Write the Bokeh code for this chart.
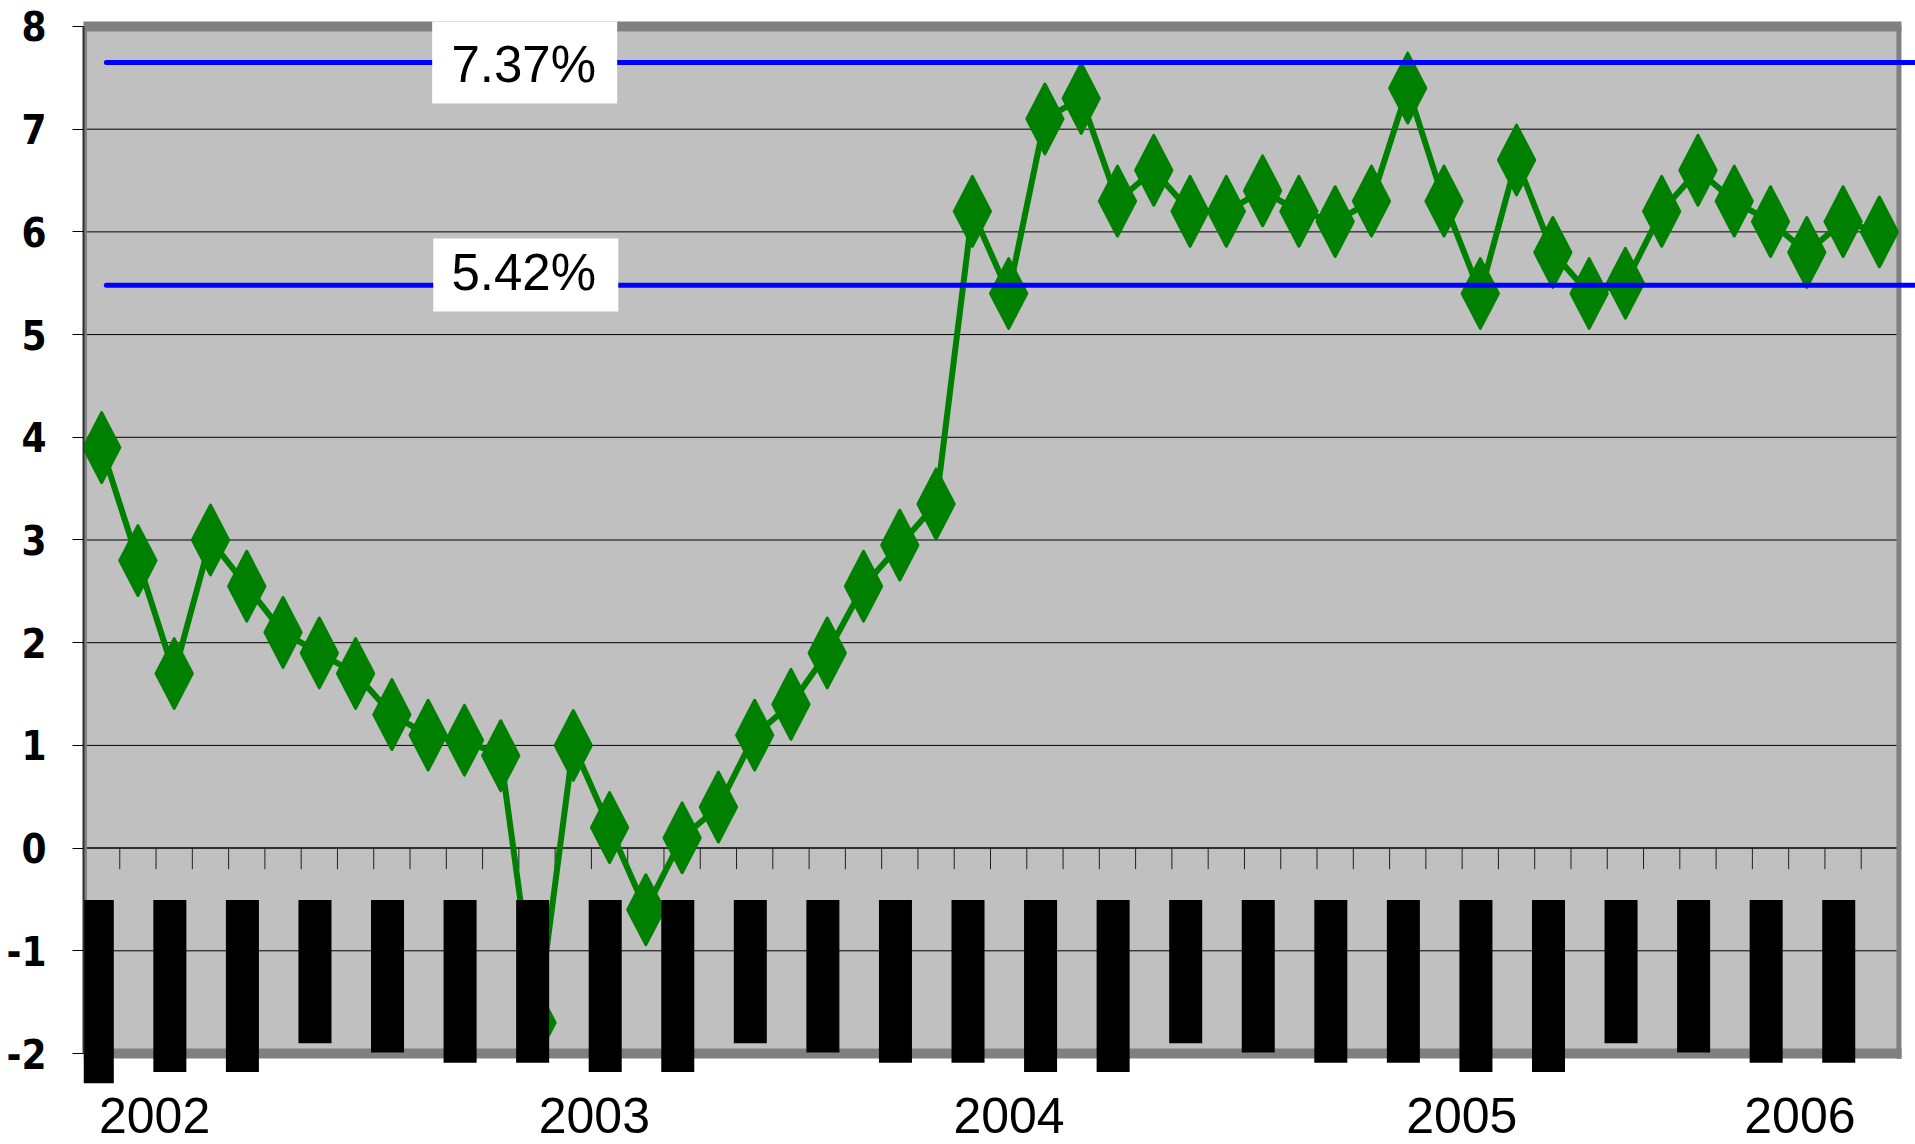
from bokeh.plotting import figure
from bokeh.models import Range1d, FixedTicker
from bokeh.embed import file_html
from bokeh.resources import INLINE
from bokeh.core.properties import value

# ---- data ----
values = [3.9, 2.8, 1.7, 3.0, 2.55, 2.1, 1.9, 1.7, 1.3, 1.1, 1.05, 0.9,
          -1.7, 1.0, 0.2, -0.6, 0.1, 0.4, 1.1, 1.4, 1.9, 2.55, 2.95, 3.35,
          6.2, 5.4, 7.1, 7.3, 6.3, 6.6, 6.2, 6.2, 6.4, 6.2, 6.1, 6.3,
          7.4, 6.3, 5.4, 6.7, 5.8, 5.4, 5.5, 6.2, 6.6, 6.3, 6.1, 5.8,
          6.1, 6.0]
ref_levels = [7.65, 5.48]
ref_labels = ["7.37%", "5.42%"]
ref_label_y = [7.63, 5.6]
years = ["2002", "2003", "2004", "2005", "2006"]
year_pos = [1.96, 14.08, 25.51, 37.99, 47.31]
month_label_bottom = [-2.29, -2.18, -2.18, -1.90, -1.99, -2.09, -2.09, -2.18,
                      -2.18, -1.90, -1.99, -2.09, -2.09, -2.18, -2.18, -1.90,
                      -1.99, -2.09, -2.09, -2.18, -2.18, -1.90, -1.99, -2.09,
                      -2.09]
y_ticks = list(range(-2, 9))

n = len(values)
xs = [i + 0.5 for i in range(n)]

p = figure(width=1915, height=1144, output_backend="svg", toolbar_location=None,
           x_range=Range1d(0, 50.496), y_range=Range1d(-2.886, 8.253),
           x_axis_type=None, min_border_left=83, min_border_right=0,
           min_border_top=0, min_border_bottom=0,
           background_fill_color="white", border_fill_color="white",
           outline_line_color=None)
p.ygrid.visible = False

# y axis
ax = p.yaxis[0]
ax.ticker = FixedTicker(ticks=y_ticks)
ax.bounds = (-2, 8)
ax.major_label_overrides = {t: ("-" + str(abs(t)) if t < 0 else str(t)) for t in y_ticks}
ax.major_tick_out = 11
ax.major_tick_in = 0
ax.minor_tick_out = 0
ax.minor_tick_in = 0
ax.major_tick_line_color = "black"
ax.axis_line_color = "#303030"
ax.axis_line_width = 2
ax.major_label_standoff = 26
ax.major_label_text_font = "DejaVu Sans Condensed, Liberation Sans"
ax.major_label_text_font_style = "bold"
ax.major_label_text_font_size = "40px"
ax.major_label_text_color = "black"

# plot area background
p.quad(left=0, right=n, bottom=y_ticks[0], top=y_ticks[-1], fill_color="#C0C0C0", line_color=None)

# gridlines
grid_vals = [t for t in y_ticks if y_ticks[0] < t < y_ticks[-1] and t != 0]
p.segment(x0=[0] * len(grid_vals), x1=[n] * len(grid_vals), y0=grid_vals, y1=grid_vals,
          line_color="black", line_width=1)

# category axis at zero with ticks
p.segment(x0=0, x1=n, y0=0, y1=0, line_color="black", line_width=1.5)
bounds_x = list(range(1, n + 1))
p.segment(x0=bounds_x, x1=bounds_x, y0=[0] * n, y1=[-0.205] * n, line_color="#202020", line_width=1)

# plot-area border bands
p.segment(x0=-0.055, x1=50.11, y0=y_ticks[-1], y1=y_ticks[-1], line_color="#808080", line_width=10)
p.segment(x0=50.04, x1=50.04, y0=y_ticks[-1], y1=-2.05, line_color="#808080", line_width=5)
p.segment(x0=0, x1=50.11, y0=y_ticks[0], y1=y_ticks[0], line_color="#808080", line_width=10)
p.segment(x0=0.055, x1=0.055, y0=y_ticks[-1], y1=y_ticks[0], line_color="#808080", line_width=3)

# green series
p.line(xs, values, line_color="#008000", line_width=6)
hw, hh = 0.5, 0.34
dx = [[x, x + hw, x, x - hw] for x in xs]
dy = [[v + hh, v, v - hh, v] for v in values]
p.patches(dx, dy, fill_color="#008000", line_color="#008000", line_width=3, line_join="round")

# month label blocks (rendered as solid blocks)
bx = [2 * k + 0.38 for k in range(len(month_label_bottom))]
p.vbar(x=bx, width=0.91, top=-0.505, bottom=month_label_bottom, fill_color="black", line_color=None)

# reference lines
for lv in ref_levels:
    p.segment(x0=0.63, x1=51, y0=lv, y1=lv, line_color="#0000FF", line_width=5, line_cap="round")

# reference label boxes
p.rect(x=[12.16, 12.19], y=[ref_levels[0], 5.58], width=185, height=[82, 73],
       width_units="screen", height_units="screen", fill_color="white", line_color=None)
p.text(x=[12.135, 12.135], y=ref_label_y, text=ref_labels, text_align="center",
       text_baseline="middle", text_font=value("Liberation Sans"), text_font_size="51px",
       text_color="black")

# year labels
p.text(x=year_pos, y=[-2.6] * len(years), text=years, text_align="center",
       text_baseline="middle", text_font=value("Liberation Sans"), text_font_size="50px",
       text_color="black")

open("out.html", "w").write(file_html(p, INLINE))
